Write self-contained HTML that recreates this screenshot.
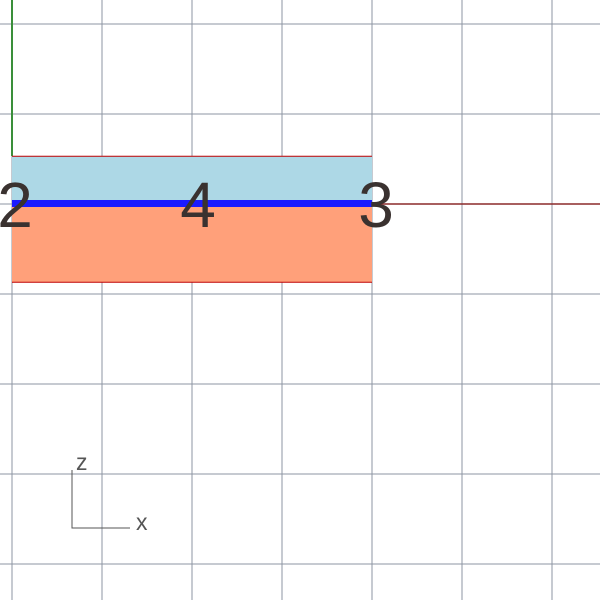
<!DOCTYPE html>
<html><head><meta charset="utf-8"><style>
html,body{margin:0;padding:0;background:#fff;width:600px;height:600px;overflow:hidden}
svg{display:block}
text{font-family:"Liberation Sans","DejaVu Sans",sans-serif}
</style></head><body>
<svg id="chart" width="600" height="600">
<g id="grid"></g>
<line x1="12" y1="0" x2="12" y2="156" stroke="#3a8f3a" stroke-width="2"/>
<line x1="372" y1="204" x2="600" y2="204" stroke="#8b2a2a" stroke-width="1.5"/>
<g id="bars"></g>
<g id="labels"></g>
<g>
<polyline points="72,470 72,528 130,528" fill="none" stroke="#555" stroke-width="1"/>
<text x="76" y="470" font-size="23" fill="#555">z</text>
<text x="136" y="530" font-size="23" fill="#555">x</text>
</g>
</svg>
<script>
const tickLabels = ["2", "4", "3"];
const tickValues = [0, 4, 8];
const upperValues = [0.53];
const lowerValues = [0.87];
const gridValues = [-1, 0, 1, 2, 3, 4, 5, 6];
const NS = "http://www.w3.org/2000/svg";
const x0 = 12, unit = 90, yBase = 204;
const xs = v => x0 + v * (unit / 2);
const ys = v => v * unit;
function mk(tag, attrs, parent){const e=document.createElementNS(NS,tag);for(const k in attrs)e.setAttribute(k,attrs[k]);parent.appendChild(e);return e;}
const grid = document.getElementById('grid');
gridValues.forEach(g=>{
  const vl = mk('line',{x1:x0+g*unit,y1:0,x2:x0+g*unit,y2:600,stroke:'#8e95a3','stroke-width':1},grid);
  
  
  const hl = mk('line',{x1:0,y1:24+g*unit,x2:600,y2:24+g*unit,stroke:'#8e95a3','stroke-width':1},grid);
  
  
});
const bars = document.getElementById('bars');
const xEnd = xs(tickValues[tickValues.length-1]);
const up = mk('rect',{x:x0,y:yBase-ys(upperValues[0]),width:xEnd-x0,height:ys(upperValues[0]),fill:'#add8e6'},bars);


const lo = mk('rect',{x:x0,y:yBase,width:xEnd-x0,height:ys(lowerValues[0]),fill:'#ffa07a'},bars);


const t1 = mk('line',{x1:x0,y1:yBase-ys(upperValues[0]),x2:xEnd,y2:yBase-ys(upperValues[0]),stroke:'#c00000','stroke-width':1},bars);


const t2 = mk('line',{x1:x0,y1:yBase+ys(lowerValues[0]),x2:xEnd,y2:yBase+ys(lowerValues[0]),stroke:'#c00000','stroke-width':1},bars);


const band = mk('rect',{x:x0,y:yBase-4,width:xEnd-x0,height:7,fill:'#1a1aff'},bars);


const labels = document.getElementById('labels');
tickLabels.forEach((t,i)=>{
  const e = mk('text',{x:xs(tickValues[i])+(i===0?3:(i===1?6:4)),y:227,'font-size':64,fill:'#3a3230','text-anchor':'middle'},labels);
  e.textContent = t;
  
  
});
</script>
</body></html>
